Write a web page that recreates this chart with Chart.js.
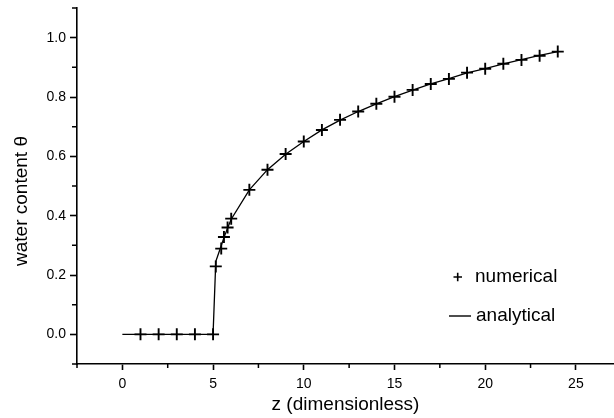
<!DOCTYPE html>
<html>
<head>
<meta charset="utf-8">
<script src="https://cdn.jsdelivr.net/npm/chart.js@4"></script>
<style>
  html, body { margin: 0; padding: 0; background: #fff; overflow: hidden; }
  #c { display: block; }
</style>
</head>
<body>
<canvas id="c" width="614" height="418" style="width:614px;height:418px"></canvas>
<script>
// Numerical solution (markers)
const numZ = [1, 2, 3, 4, 5, 5.15, 5.45, 5.6, 5.8, 6, 7, 8, 9, 10, 11, 12, 13, 14, 15, 16, 17, 18, 19, 20, 21, 22, 23, 24];
const numTheta = [0, 0, 0, 0, 0, 0.229, 0.289, 0.328, 0.36, 0.39, 0.487, 0.555, 0.608, 0.65, 0.689, 0.723, 0.751, 0.777, 0.801, 0.824, 0.844, 0.861, 0.882, 0.895, 0.912, 0.925, 0.939, 0.953];

// Analytical solution (line)
const anaZ = [0, 5, 5.15, 5.4, 5.6, 5.8, 6, 7, 8, 9, 10, 11, 12, 13, 14, 15, 16, 17, 18, 19, 20, 21, 22, 23, 24];
const anaTheta = [0, 0, 0.245, 0.29, 0.326, 0.358, 0.388, 0.487, 0.555, 0.607, 0.65, 0.689, 0.722, 0.751, 0.777, 0.801, 0.823, 0.844, 0.862, 0.881, 0.896, 0.912, 0.926, 0.94, 0.953];

// Axis ticks
const xTicks = [0, 5, 10, 15, 20, 25];
const xMinorTicks = [-2.5, 2.5, 7.5, 12.5, 17.5, 22.5];
const yTicks = [0.0, 0.2, 0.4, 0.6, 0.8, 1.0];
const yMinorTicks = [-0.1, 0.1, 0.3, 0.5, 0.7, 0.9, 1.1];

const seriesNames = ['numerical', 'analytical'];
const xTitle = 'z (dimensionless)';
const yTitle = 'water content θ';

const FONT = '"Liberation Sans", Arial, Helvetica, sans-serif';

const toPoints = (xs, ys) => xs.map((x, i) => ({ x: x, y: ys[i] }));

// Short minor tick marks between the labelled ticks
const minorTicks = {
  id: 'minorTicks',
  afterDraw(chart) {
    const { ctx, chartArea } = chart;
    const xs = chart.scales.x, ys = chart.scales.y;
    ctx.save();
    ctx.strokeStyle = '#000';
    ctx.lineWidth = 1.5;
    ctx.beginPath();
    xMinorTicks.forEach(v => {
      const px = xs.getPixelForValue(v);
      ctx.moveTo(px, chartArea.bottom);
      ctx.lineTo(px, chartArea.bottom + 4);
    });
    yMinorTicks.forEach(v => {
      const py = ys.getPixelForValue(v);
      ctx.moveTo(chartArea.left, py);
      ctx.lineTo(chartArea.left - 5, py);
    });
    ctx.stroke();
    ctx.restore();
  }
};

// Y-axis title and in-plot legend
const annotations = {
  id: 'annotations',
  afterDraw(chart) {
    const { ctx } = chart;
    ctx.save();
    ctx.fillStyle = '#000';
    ctx.font = '19px ' + FONT;
    ctx.textBaseline = 'middle';

    // y title
    ctx.save();
    ctx.translate(21.5, 201);
    ctx.rotate(-Math.PI / 2);
    ctx.textAlign = 'center';
    ctx.fillText(yTitle, 0, 0);
    ctx.restore();

    // legend: numerical
    ctx.strokeStyle = '#000';
    ctx.lineWidth = 1.6;
    ctx.beginPath();
    ctx.moveTo(453.5, 277); ctx.lineTo(462, 277);
    ctx.moveTo(457.7, 272.7); ctx.lineTo(457.7, 281.3);
    ctx.stroke();
    ctx.textAlign = 'left';
    ctx.fillText(chart.data.datasets[0].label, 475, 277);

    // legend: analytical
    ctx.lineWidth = 1.4;
    ctx.beginPath();
    ctx.moveTo(449, 316); ctx.lineTo(471, 316);
    ctx.stroke();
    ctx.fillText(chart.data.datasets[1].label, 476, 316);
    ctx.restore();
  }
};

new Chart(document.getElementById('c'), {
  type: 'scatter',
  data: {
    datasets: [
      {
        label: seriesNames[0],
        data: toPoints(numZ, numTheta),
        showLine: false,
        pointStyle: 'cross',
        pointRadius: 6,
        pointBorderWidth: 1.9,
        borderColor: '#000',
        backgroundColor: '#000'
      },
      {
        label: seriesNames[1],
        data: toPoints(anaZ, anaTheta),
        showLine: true,
        tension: 0,
        pointRadius: 0,
        borderWidth: 1.3,
        borderColor: '#000',
        backgroundColor: '#000'
      }
    ]
  },
  options: {
    responsive: false,
    animation: false,
    devicePixelRatio: 1,
    layout: { autoPadding: false, padding: { top: 8, left: 0, right: 0, bottom: 0 } },
    plugins: {
      legend: { display: false },
      tooltip: { enabled: false }
    },
    scales: {
      x: {
        type: 'linear',
        min: -2.5,
        max: 27.1,
        afterBuildTicks: s => { s.ticks = xTicks.map(v => ({ value: v })); },
        afterFit: s => { s.height = 54; s.paddingLeft = 0; s.paddingRight = 0; },
        border: { display: true, color: '#000', width: 1.6 },
        grid: { display: true, drawOnChartArea: false, drawTicks: true, tickLength: 6, tickColor: '#000', tickWidth: 1.6 },
        ticks: { color: '#000', font: { family: FONT, size: 14 }, padding: 6, maxRotation: 0 },
        title: { display: true, text: xTitle, color: '#000', font: { family: FONT, size: 19, lineHeight: 1.2 }, padding: { top: 0, bottom: 2 } }
      },
      y: {
        type: 'linear',
        min: -0.1,
        max: 1.1,
        afterBuildTicks: s => { s.ticks = yTicks.map(v => ({ value: v })); },
        afterFit: s => { s.width = 77; s.paddingTop = 0; s.paddingBottom = 0; },
        border: { display: true, color: '#000', width: 1.6 },
        grid: { display: true, drawOnChartArea: false, drawTicks: true, tickLength: 7, tickColor: '#000', tickWidth: 1.6 },
        ticks: { color: '#000', font: { family: FONT, size: 14 }, padding: 4, callback: v => v.toFixed(1) }
      }
    }
  },
  plugins: [minorTicks, annotations]
});
</script>
</body>
</html>
